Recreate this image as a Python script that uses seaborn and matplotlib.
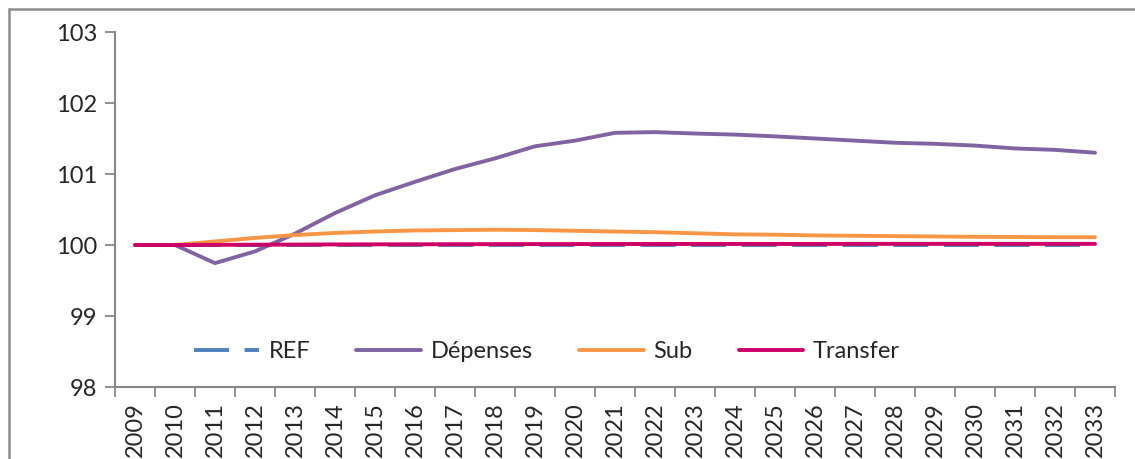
import matplotlib
matplotlib.use("Agg")
import matplotlib.pyplot as plt
import seaborn as sns
import pandas as pd
from matplotlib.patches import Rectangle

years = [str(y) for y in range(2009, 2034)]

ref = [100.0] * 25
depenses = [100.00, 100.00, 99.745, 99.91, 100.16, 100.45, 100.70, 100.89, 101.07, 101.22,
            101.39, 101.47, 101.58, 101.59, 101.57, 101.555, 101.53, 101.50, 101.47, 101.44,
            101.425, 101.40, 101.36, 101.34, 101.30]
sub = [100.00, 100.00, 100.05, 100.10, 100.14, 100.17, 100.19, 100.205, 100.21, 100.215,
       100.21, 100.20, 100.19, 100.18, 100.165, 100.15, 100.145, 100.135, 100.13, 100.125,
       100.12, 100.115, 100.113, 100.11, 100.11]
transfer = [100.00, 100.00, 100.002, 100.004, 100.006, 100.008, 100.009, 100.010, 100.011, 100.012,
            100.013, 100.013, 100.014, 100.014, 100.015, 100.015, 100.015, 100.015, 100.016, 100.016,
            100.016, 100.016, 100.016, 100.016, 100.016]

labels = ["REF", "Dépenses", "Sub", "Transfer"]
colors = ["#4F81BD", "#8064A2", "#F79646", "#CC0066"]

sns.set_style("white")
plt.rcParams["font.family"] = ["Lato", "DejaVu Sans"]

fig = plt.figure(figsize=(11.35, 4.59), dpi=100)
ax = fig.add_axes([115 / 1135, 1 - 387 / 459, 1000 / 1135, 355 / 459])

pos = list(range(len(years)))
series = [ref, depenses, sub, transfer]
for lab, vals, col in zip(labels, series, colors):
    df = pd.DataFrame({"x": pos, "y": vals})
    ls = (0, (9, 4)) if lab == "REF" else "-"
    sns.lineplot(data=df, x="x", y="y", ax=ax, color=col, linewidth=2.8,
                 linestyle=ls, label=lab, solid_capstyle="round", dash_capstyle="butt")

ax.set_xlim(-0.5, len(years) - 0.5)
ax.set_ylim(98, 103)
ax.set_yticks([98, 99, 100, 101, 102, 103])
ax.set_yticklabels(["98", "99", "100", "101", "102", "103"], fontsize=17)

# category boundaries carry the tick marks, centres carry the labels
ax.set_xticks([p - 0.5 for p in pos] + [len(years) - 0.5])
ax.set_xticklabels([])
ax.set_xticks(pos, minor=True)
ax.set_xticklabels(years, minor=True, rotation=90, fontsize=17)
ax.tick_params(axis="x", which="major", bottom=True, direction="out", length=7,
               width=1.3, color="#868686")
ax.tick_params(axis="x", which="minor", bottom=False, length=0, pad=11)
ax.tick_params(axis="y", left=True, direction="out", length=7, width=1.3,
               color="#868686", pad=6)
ax.set_xlabel("")
ax.set_ylabel("")

for s in ["top", "right"]:
    ax.spines[s].set_visible(False)
for s in ["left", "bottom"]:
    ax.spines[s].set_color("#868686")
    ax.spines[s].set_linewidth(1.5)

leg = ax.legend(loc="center left", bbox_to_anchor=(0.058, 0.0986), ncol=4, frameon=False,
                fontsize=17, handlelength=2.75, handletextpad=0.4, columnspacing=1.95)

# outer chart frame
fig.patches.append(Rectangle((9 / 1135, -0.5), 2.0, 0.5 + (459 - 9) / 459,
                             transform=fig.transFigure, fill=False,
                             edgecolor="#8c8c8c", linewidth=1.8))

fig.savefig("out.png", dpi=100)
